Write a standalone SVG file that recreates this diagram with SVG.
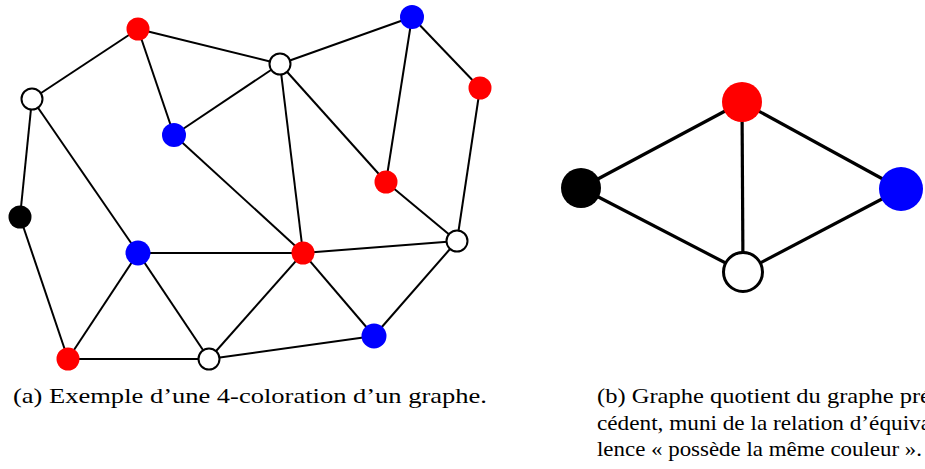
<svg xmlns="http://www.w3.org/2000/svg" width="925" height="469" viewBox="0 0 925 469">
<style>
.e{stroke:#000;stroke-width:2;fill:none}
.E{stroke:#000;stroke-width:3.2;fill:none}
.r{fill:#ff0000}.b{fill:#0000ff}.k{fill:#000}
.w{fill:#fff;stroke:#000;stroke-width:2}
.W{fill:#fff;stroke:#000;stroke-width:3}
.t{font-family:"Liberation Serif","Times New Roman",serif;font-size:22px;fill:#000}
</style>
<rect width="925" height="469" fill="#fff"/>
<g id="edges-a">
<line class="e" x1="138" y1="29" x2="32" y2="99"/>
<line class="e" x1="138" y1="29" x2="280" y2="64"/>
<line class="e" x1="138" y1="29" x2="174" y2="135"/>
<line class="e" x1="280" y1="64" x2="174" y2="135"/>
<line class="e" x1="280" y1="64" x2="412" y2="17"/>
<line class="e" x1="280" y1="64" x2="303" y2="253"/>
<line class="e" x1="280" y1="64" x2="386" y2="182"/>
<line class="e" x1="412" y1="17" x2="386" y2="182"/>
<line class="e" x1="412" y1="17" x2="480" y2="88"/>
<line class="e" x1="480" y1="88" x2="457" y2="241"/>
<line class="e" x1="386" y1="182" x2="457" y2="241"/>
<line class="e" x1="457" y1="241" x2="303" y2="253"/>
<line class="e" x1="457" y1="241" x2="374" y2="336"/>
<line class="e" x1="174" y1="135" x2="303" y2="253"/>
<line class="e" x1="32" y1="99" x2="20" y2="217"/>
<line class="e" x1="32" y1="99" x2="138" y2="253"/>
<line class="e" x1="20" y1="217" x2="68" y2="359"/>
<line class="e" x1="138" y1="253" x2="303" y2="253"/>
<line class="e" x1="138" y1="253" x2="68" y2="359"/>
<line class="e" x1="138" y1="253" x2="209" y2="359"/>
<line class="e" x1="68" y1="359" x2="209" y2="359"/>
<line class="e" x1="209" y1="359" x2="303" y2="253"/>
<line class="e" x1="209" y1="359" x2="374" y2="336"/>
<line class="e" x1="303" y1="253" x2="374" y2="336"/>
</g>
<g id="edges-b">
<line class="E" x1="581" y1="188" x2="742" y2="102"/>
<line class="E" x1="581" y1="188" x2="743" y2="272"/>
<line class="E" x1="742" y1="102" x2="743" y2="272"/>
<line class="E" x1="742" y1="102" x2="901" y2="189"/>
<line class="E" x1="743" y1="272" x2="901" y2="189"/>
</g>
<g id="a-red-top"><circle class="r" cx="138" cy="29" r="11.5"/></g>
<g id="a-white-left"><circle class="w" cx="32" cy="99" r="10.5"/></g>
<g id="a-blue-mid"><circle class="b" cx="174" cy="135" r="12"/></g>
<g id="a-white-top"><circle class="w" cx="280" cy="64" r="10.5"/></g>
<g id="a-blue-top"><circle class="b" cx="412" cy="17" r="12"/></g>
<g id="a-red-right"><circle class="r" cx="480" cy="88" r="11.5"/></g>
<g id="a-red-mid"><circle class="r" cx="386" cy="182" r="11.5"/></g>
<g id="a-white-right"><circle class="w" cx="457" cy="241" r="10.5"/></g>
<g id="a-red-center"><circle class="r" cx="303" cy="253" r="11.5"/></g>
<g id="a-black"><circle class="k" cx="20" cy="217" r="11.5"/></g>
<g id="a-blue-left"><circle class="b" cx="138" cy="253" r="12.5"/></g>
<g id="a-blue-bottom"><circle class="b" cx="374" cy="336" r="12.5"/></g>
<g id="a-red-bl"><circle class="r" cx="68" cy="359" r="11.5"/></g>
<g id="a-white-bottom"><circle class="w" cx="209" cy="359" r="10.5"/></g>
<g id="b-red"><circle class="r" cx="742" cy="102" r="20"/></g>
<g id="b-black"><circle class="k" cx="581" cy="188" r="20"/></g>
<g id="b-blue"><circle class="b" cx="901" cy="189" r="22"/></g>
<g id="b-white"><circle class="W" cx="743" cy="272" r="19.5"/></g>
<g id="captions">
<text class="t" x="13" y="403" textLength="474" lengthAdjust="spacingAndGlyphs">(a) Exemple d’une 4-coloration d’un graphe.</text>
<text class="t" x="597" y="403" textLength="334" lengthAdjust="spacingAndGlyphs">(b) Graphe quotient du graphe pré</text>
<text class="t" x="597" y="430" textLength="334" lengthAdjust="spacingAndGlyphs">cédent, muni de la relation d’équiva</text>
<text class="t" x="597" y="456" textLength="325" lengthAdjust="spacingAndGlyphs">lence « possède la même couleur ».</text>
</g>
</svg>
